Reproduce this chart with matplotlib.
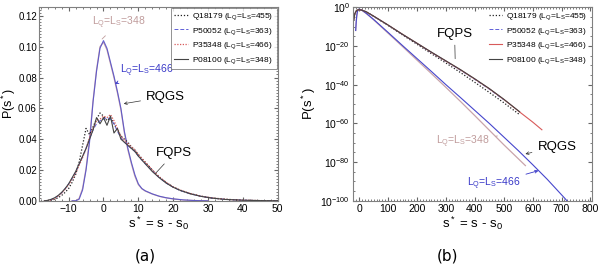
import numpy as np
import matplotlib
matplotlib.use('Agg')
from matplotlib import pyplot as plt
from matplotlib.ticker import AutoMinorLocator, FixedLocator, NullFormatter

plt.rcParams['font.family'] = ['Liberation Sans', 'DejaVu Sans']
plt.rcParams['mathtext.fontset'] = 'custom'
plt.rcParams['mathtext.rm'] = 'Liberation Sans'
plt.rcParams['mathtext.it'] = 'Liberation Sans'
plt.rcParams['mathtext.bf'] = 'Liberation Sans:bold'

# ---- data, panel (a): linear scale ----
x_fq = [-17, -16, -15, -14, -13, -12, -11, -10, -9, -8, -7, -6, -5, -4, -3, -2, -1, 0, 1, 2,
        3, 4, 5, 6, 7, 8, 9, 10, 12, 14, 16, 18, 20, 22, 25, 28, 31, 35, 40, 45, 50]
fq_Q18179 = [0, 0, 0.0003, 0.001, 0.002, 0.0035, 0.0055, 0.008, 0.012, 0.017, 0.025, 0.036,
             0.047, 0.043, 0.048, 0.053, 0.057, 0.055, 0.052, 0.054, 0.050, 0.046, 0.042, 0.040,
             0.038, 0.035, 0.033, 0.030, 0.025, 0.020, 0.0155, 0.0118, 0.009, 0.0068, 0.0046,
             0.003, 0.0019, 0.001, 0.0004, 0.00015, 0.00005]
fq_P50052 = [0, 0.0002, 0.0008, 0.0018, 0.0032, 0.0052, 0.0078, 0.011, 0.0145, 0.0185, 0.0235,
             0.0285, 0.034, 0.040, 0.046, 0.050, 0.052, 0.053, 0.054, 0.053, 0.050, 0.045, 0.041,
             0.038, 0.036, 0.034, 0.032, 0.029, 0.024, 0.0195, 0.015, 0.0115, 0.0088, 0.0067,
             0.0045, 0.0029, 0.0018, 0.0009, 0.0004, 0.00015, 0.00005]
fq_P35348 = [0, 0.0002, 0.0006, 0.0015, 0.003, 0.005, 0.0075, 0.0105, 0.014, 0.018, 0.023, 0.028,
             0.034, 0.041, 0.047, 0.052, 0.053, 0.055, 0.054, 0.056, 0.052, 0.047, 0.042, 0.039,
             0.037, 0.035, 0.033, 0.030, 0.025, 0.020, 0.0155, 0.012, 0.009, 0.007, 0.0047,
             0.003, 0.0019, 0.001, 0.0004, 0.00015, 0.00005]
fq_P08100 = [0, 0.0003, 0.001, 0.002, 0.0035, 0.0055, 0.008, 0.011, 0.015, 0.019, 0.024, 0.029,
             0.034, 0.040, 0.046, 0.054, 0.050, 0.054, 0.049, 0.055, 0.044, 0.047, 0.040, 0.038,
             0.036, 0.034, 0.032, 0.029, 0.024, 0.019, 0.015, 0.0115, 0.0088, 0.0068, 0.0045,
             0.0029, 0.0018, 0.0009, 0.0004, 0.00015, 0.00005]

x_rq = [-9, -8, -7, -6, -5, -4, -3, -2, -1, 0, 1, 2, 3, 4, 5, 6, 7, 8, 9, 10, 11, 12, 14, 16,
        18, 20, 23, 26, 30]
rq_466 = [0, 0, 0.001, 0.007, 0.02, 0.038, 0.064, 0.084, 0.099, 0.104, 0.099, 0.090, 0.081,
          0.071, 0.060, 0.045, 0.034, 0.025, 0.017, 0.011, 0.008, 0.0065, 0.0045, 0.003, 0.002,
          0.0013, 0.0006, 0.0002, 0]
rq_348 = [0, 0, 0.0015, 0.008, 0.021, 0.040, 0.065, 0.085, 0.100, 0.103, 0.098, 0.089, 0.080,
          0.070, 0.059, 0.044, 0.033, 0.024, 0.016, 0.0105, 0.0078, 0.0063, 0.0044, 0.0029,
          0.0019, 0.0012, 0.0005, 0.0002, 0]

# ---- data, panel (b): log scale (stored as log10 P) ----
xl_fq = [-18, -15, -10, -5, 0, 10, 25, 50, 100, 150, 200, 250, 300, 350, 400, 450, 500, 555]
lg_Q18179 = [-7, -3.6, -2, -1.4, -1.24, -1.55, -2.45, -4.7, -9.4, -14.3, -19.1, -24, -28.8,
             -33.7, -38.8, -44, -49.3, -55.5]
xl_P50052 = [-18, -15, -10, -5, 0, 10, 25, 50, 100, 150, 200, 250, 300, 350, 400, 450, 500]
lg_P50052 = [-6.5, -3.4, -1.95, -1.4, -1.27, -1.56, -2.42, -4.62, -9.25, -14.1, -18.7, -23.4,
             -27.9, -32.5, -37.3, -42.3, -47.8]
xl_P35348 = [-18, -15, -10, -5, 0, 10, 25, 50, 100, 150, 200, 250, 300, 350, 400, 450, 500,
             555, 600, 632]
lg_P35348 = [-6.2, -3.3, -1.9, -1.4, -1.26, -1.55, -2.4, -4.6, -9.2, -14.0, -18.6, -23.3,
             -27.8, -32.3, -37.1, -42.1, -47.6, -54.1, -59.3, -63.3]
lg_P08100 = [-6, -3.3, -1.9, -1.4, -1.26, -1.55, -2.4, -4.6, -9.2, -14.0, -18.6, -23.2, -27.7,
             -32.2, -37, -42, -47.5, -54]

xl_rq466 = [-12, -10, -8, -6, -4, -2, 0, 10, 25, 50, 100, 150, 200, 250, 300, 350, 400, 450,
            500, 550, 600, 650, 710, 720]
lg_rq466 = [-12, -7, -4, -2.2, -1.4, -1.08, -0.98, -1.6, -3.2, -6.3, -13, -19.8, -26.5, -33.2,
            -40, -46.6, -53.3, -60, -67, -74, -81.3, -88.8, -98.5, -100.2]
xl_rq348 = [-12, -10, -8, -6, -4, -2, 0, 10, 25, 50, 100, 150, 200, 250, 300, 350, 400, 450,
            500, 550, 575]
lg_rq348 = [-12, -7.5, -4.2, -2.3, -1.45, -1.1, -1.0, -1.62, -3.3, -6.5, -13.4, -20.3, -27.3,
            -34.3, -41.4, -48.6, -56, -63.5, -71, -78.2, -81.8]

names = ['Q18179 (L$_Q$=L$_S$=455)', 'P50052 (L$_Q$=L$_S$=363)',
         'P35348 (L$_Q$=L$_S$=466)', 'P08100 (L$_Q$=L$_S$=348)']

c_q = '#222222'
c_p5 = '#6060d8'
c_p3 = '#d85a5a'
c_p0 = '#444444'
c_348 = '#c9a4aa'
c_466 = '#4646cc'


def style_axes(ax):
    for s in ax.spines.values():
        s.set_color('#808080')
        s.set_linewidth(0.8)
    ax.tick_params(which='both', direction='in', top=True, right=True,
                   labelsize=7.5, color='#666666', pad=2)
    ax.tick_params(which='major', length=3)
    ax.tick_params(which='minor', length=1.5)


fig = plt.figure(figsize=(6, 2.66), dpi=100)

# ---------- (a) ----------
ax1 = fig.add_axes([0.065, 0.245, 0.398, 0.730])
ax1.plot(x_rq, rq_348, color=c_348, lw=0.9)
ax1.plot(x_rq, rq_466, color=c_466, lw=0.8, alpha=0.8)
ax1.plot(x_fq, fq_Q18179, color=c_q, lw=0.9, ls=(0, (1, 1.5)), label=names[0])
ax1.plot(x_fq, fq_P50052, color=c_p5, lw=0.7, ls=(0, (4, 2)), label=names[1])
ax1.plot(x_fq, fq_P35348, color=c_p3, lw=0.9, ls=(0, (1, 1.2)), label=names[2])
ax1.plot(x_fq, fq_P08100, color=c_p0, lw=0.8, label=names[3])
ax1.set_xlim(-18.5, 50)
ax1.set_ylim(0, 0.126)
ax1.set_xticks([-10, 0, 10, 20, 30, 40, 50])
ax1.set_yticks([0, 0.02, 0.04, 0.06, 0.08, 0.10, 0.12])
ax1.set_yticklabels(['0.00', '0.02', '0.04', '0.06', '0.08', '0.10', '0.12'])
ax1.xaxis.set_minor_locator(AutoMinorLocator(5))
ax1.yaxis.set_minor_locator(AutoMinorLocator(10))
style_axes(ax1)
ax1.tick_params(axis='y', labelsize=7, pad=1.5)
ax1.set_xlabel('s$^*$ = s - s$_0$', fontsize=9.5, labelpad=1)
ax1.set_ylabel('P(s$^*$)', fontsize=9)
ax1.yaxis.set_label_coords(-0.088, 0.5)
leg1 = ax1.legend(loc='upper right', fontsize=6, handlelength=1.6, labelspacing=0.45,
                  borderaxespad=0.15, borderpad=0.4, fancybox=False, handletextpad=0.5)
leg1.get_frame().set_edgecolor('#777777')
leg1.get_frame().set_linewidth(0.7)

ax1.annotate('L$_Q$=L$_S$=348', xy=(-0.4, 0.105), xytext=(4.3, 0.1155), color='#c09c9c',
             fontsize=7.5, ha='center', va='center',
             arrowprops=dict(arrowstyle='-', lw=0.6, color='#c09c9c', shrinkB=0))
ax1.annotate('L$_Q$=L$_S$=466', xy=(3.3, 0.076), xytext=(12.5, 0.0845), color='#3838c8',
             fontsize=7.5, ha='center', va='center',
             arrowprops=dict(arrowstyle='->', lw=0.6, color='#3838c8', shrinkB=0,
                             mutation_scale=5))
ax1.annotate('RQGS', xy=(5.8, 0.063), xytext=(17.8, 0.0676), fontsize=9.5,
             ha='center', va='center',
             arrowprops=dict(arrowstyle='->', lw=0.5, color='#333333', shrinkB=0,
                             mutation_scale=5))
ax1.annotate('FQPS', xy=(15, 0.018), xytext=(20.3, 0.031), fontsize=9.5,
             ha='center', va='center',
             arrowprops=dict(arrowstyle='-', lw=0.5, color='#333333', shrinkB=0))

# ---------- (b) ----------
ax2 = fig.add_axes([0.588, 0.245, 0.399, 0.730])
ax2.plot(xl_rq348, 10.0 ** np.array(lg_rq348), color=c_348, lw=0.9)
ax2.plot(xl_rq466, 10.0 ** np.array(lg_rq466), color=c_466, lw=0.8)
ax2.plot(xl_fq, 10.0 ** np.array(lg_Q18179), color=c_q, lw=0.9, ls=(0, (1, 1.5)), label=names[0])
ax2.plot(xl_P50052, 10.0 ** np.array(lg_P50052), color=c_p5, lw=0.7, ls=(0, (4, 2)),
         label=names[1])
ax2.plot(xl_P35348, 10.0 ** np.array(lg_P35348), color=c_p3, lw=0.8, label=names[2])
ax2.plot(xl_fq, 10.0 ** np.array(lg_P08100), color=c_p0, lw=0.8, label=names[3])
ax2.set_yscale('log')
ax2.set_xlim(-22, 806)
ax2.set_ylim(1e-100, 10 ** 0.3)
ax2.set_xticks([0, 100, 200, 300, 400, 500, 600, 700, 800])
ax2.xaxis.set_minor_locator(AutoMinorLocator(10))
ax2.yaxis.set_major_locator(FixedLocator([10.0 ** e for e in range(0, -101, -20)]))
ax2.set_yticklabels(['10$^{%d}$' % e if e != 0 else '10$^0$' for e in range(0, -101, -20)])
ax2.yaxis.set_minor_locator(FixedLocator([10.0 ** e for e in range(0, -101, -5)]))
ax2.yaxis.set_minor_formatter(NullFormatter())
style_axes(ax2)
ax2.set_xlabel('s$^*$ = s - s$_0$', fontsize=9.5, labelpad=1)
ax2.set_ylabel('P(s$^*$)', fontsize=9.5)
ax2.yaxis.set_label_coords(-0.145, 0.5)
ax2.legend(loc='upper right', fontsize=6, handlelength=1.6, labelspacing=0.45,
           borderaxespad=0.15, borderpad=0.4, frameon=False, handletextpad=0.5)

ax2.annotate('FQPS', xy=(332, 10.0 ** -26.6), xytext=(330, 10.0 ** -13.6), fontsize=9.5,
             ha='center', va='center',
             arrowprops=dict(arrowstyle='-', lw=0.5, color='#333333', shrinkB=0))
ax2.annotate('RQGS', xy=(575, 10.0 ** -75.8), xytext=(684, 10.0 ** -72), fontsize=9.5,
             ha='center', va='center',
             arrowprops=dict(arrowstyle='->', lw=0.5, color='#333333', shrinkB=0,
                             mutation_scale=5))
ax2.annotate('L$_Q$=L$_S$=348', xy=(478, 10.0 ** -66.5), xytext=(360, 10.0 ** -69.5),
             color='#c09c9c', fontsize=7.5, ha='center', va='center',
             arrowprops=dict(arrowstyle='-', lw=0.6, color='#c09c9c', shrinkB=0))
ax2.annotate('L$_Q$=L$_S$=466', xy=(620, 10.0 ** -84.4), xytext=(465, 10.0 ** -91),
             color='#3838c8', fontsize=7.5, ha='center', va='center',
             arrowprops=dict(arrowstyle='->', lw=0.6, color='#3838c8', shrinkB=0,
                             mutation_scale=5))

fig.text(0.243, 0.02, '(a)', fontsize=11, ha='center', family='DejaVu Sans')
fig.text(0.745, 0.02, '(b)', fontsize=11, ha='center', family='DejaVu Sans')

plt.savefig('out.png', dpi=100)
